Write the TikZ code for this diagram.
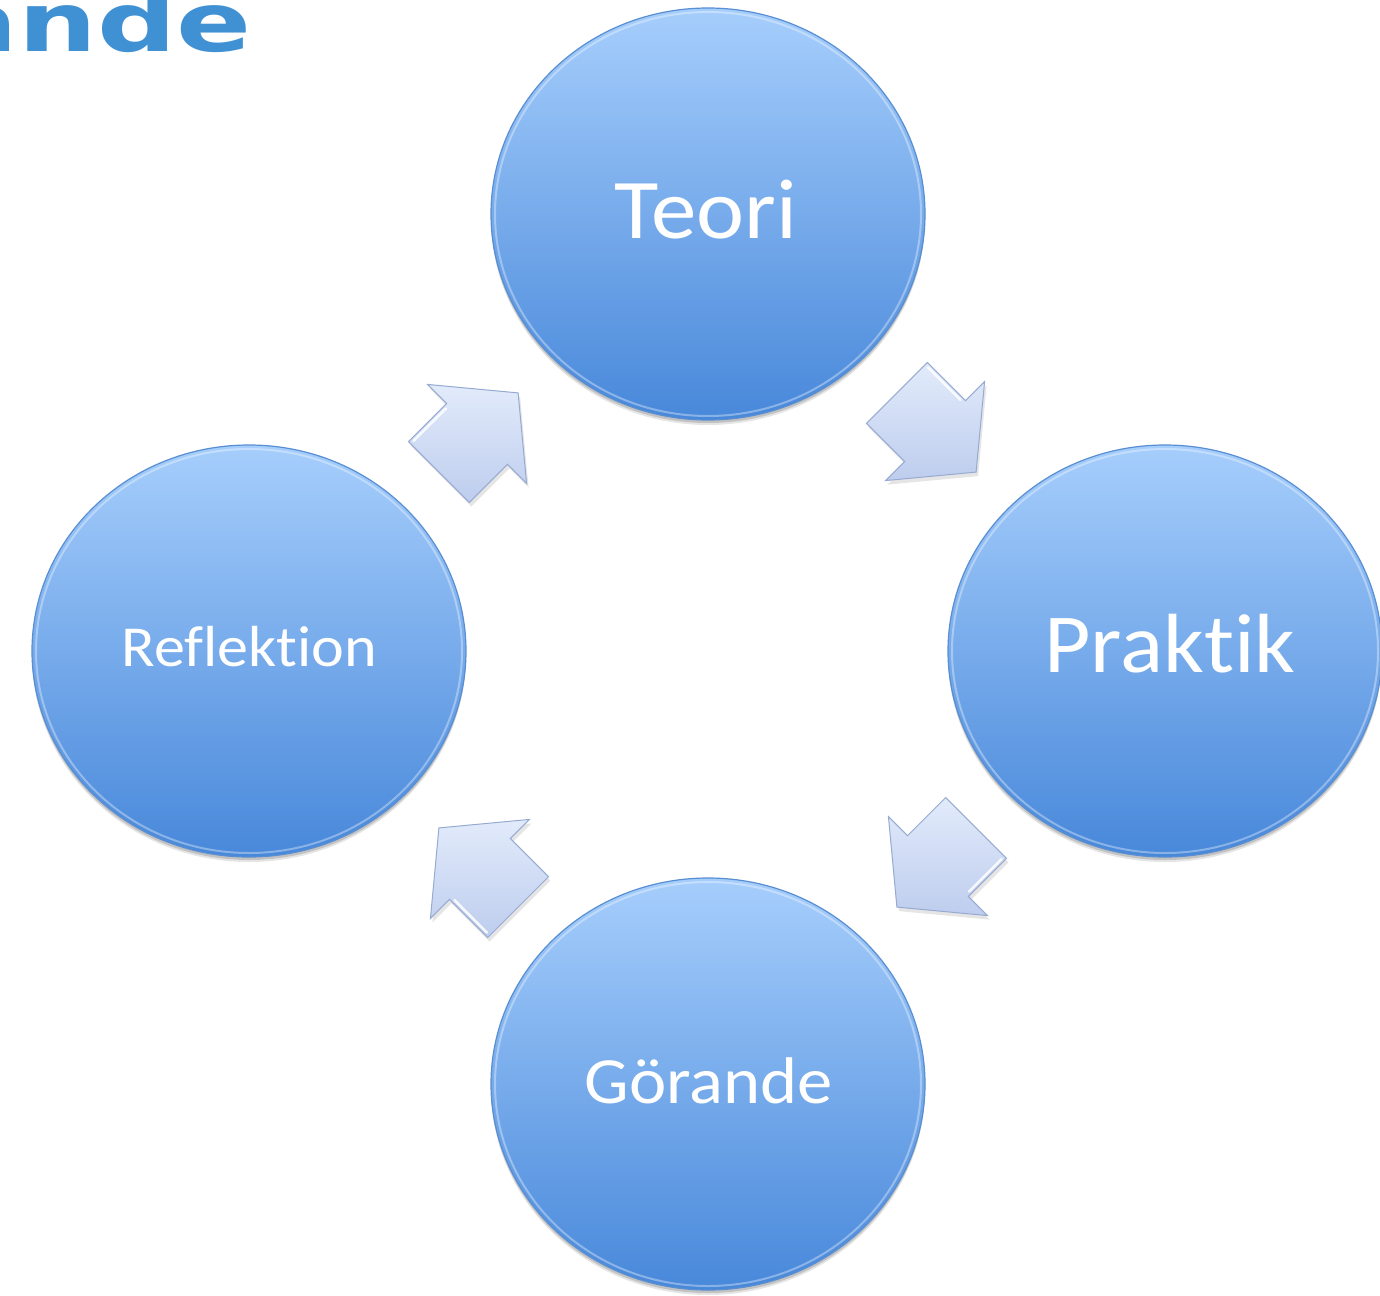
\documentclass[tikz,border=0pt]{standalone}
\usepackage{fontspec}
\setmainfont{Carlito}[Ligatures=NoCommon]
\newfontfamily\titlefont{DejaVu Sans}
\usetikzlibrary{shapes.geometric,calc,shadows}
\definecolor{ctop}{RGB}{166,206,252}
\definecolor{cmid}{RGB}{122,172,238}
\definecolor{cbot}{RGB}{72,136,218}
\definecolor{crim}{RGB}{88,142,210}
\definecolor{atop}{RGB}{226,235,251}
\definecolor{abot}{RGB}{190,205,238}
\definecolor{arim}{RGB}{150,170,210}
\definecolor{titleblue}{RGB}{64,145,212}
\begin{document}
\begin{tikzpicture}[x=1pt,y=-1pt,
  bubble/.style={ellipse, minimum width=434pt, minimum height=412pt, inner sep=0pt,
    top color=ctop, middle color=cmid, bottom color=cbot, draw=crim, line width=1.2pt,
    drop shadow={shadow xshift=0pt, shadow yshift=-5pt, opacity=0.10, fill=black},
    drop shadow={shadow xshift=0pt, shadow yshift=-3pt, opacity=0.15, fill=black}},
  lbl/.style={anchor=base, inner sep=0pt, text=white},
  rimlight/.style={white, opacity=0.35, line width=2pt},
  arrowbody/.style={top color=atop, bottom color=abot, draw=arim, line width=1pt, line join=miter},
  arrowshadow/.style={fill=black, fill opacity=0.10},
  arrowhl/.style={white, line width=2.5pt, opacity=0.85, line cap=round}
]
\useasboundingbox (0,0) rectangle (1380,1295);
\clip (0,0) rectangle (1380,1295);
\fill[white] (0,0) rectangle (1380,1295);

\node[anchor=base east, text=titleblue, font=\titlefont\bfseries\fontsize{82}{90}\selectfont, xscale=1.35, inner sep=0pt] (title) at (252,52) {ande};

\node[bubble] (teori) at (708,214) {};
\node[bubble] (praktik) at (1165,651) {};
\node[bubble] (gorande) at (708,1084) {};
\node[bubble] (reflektion) at (249,651) {};

\foreach \n in {teori,praktik,gorande,reflektion}
  \draw[rimlight] (\n.center) ellipse [x radius=213, y radius=202];

\node[lbl, font=\fontsize{85}{90}\selectfont] (teoriT) at (706,238) {\scalebox{1.07}[1]{Teori}};
\node[lbl, font=\fontsize{84}{90}\selectfont] (praktikT) at (1170,672) {\scalebox{1.07}[1]{Praktik}};
\node[lbl, font=\fontsize{66}{70}\selectfont] (gorandeT) at (709,1103) {\scalebox{1.07}[1]{Görande}};
\node[lbl, font=\fontsize{58}{62}\selectfont] (reflektionT) at (249,666) {\scalebox{1.07}[1]{Reflektion}};

\coordinate (a1) at ($(reflektion)!0.5!(teori)$);
\coordinate (a2) at ($(teori)!0.5!(praktik)$);
\coordinate (a3) at ($(praktik)!0.5!(gorande)$);
\coordinate (a4) at ($(gorande)!0.5!(reflektion)$);

\foreach \c/\r in {a1/45,a2/-45,a3/-135,a4/135}{
  \begin{scope}[shift={(\c)}, xshift=2pt, yshift=-4pt, rotate=\r]
    \path[arrowshadow] (-56,-43) -- (-2,-43) -- (-2,-70) -- (56,0) -- (-2,70) -- (-2,43) -- (-56,43) -- cycle;
  \end{scope}
  \begin{scope}[shift={(\c)}, rotate=\r]
    \path[arrowbody] (-56,-43) -- (-2,-43) -- (-2,-70) -- (56,0) -- (-2,70) -- (-2,43) -- (-56,43) -- cycle;
    \draw[arrowhl] (-52,-40) -- (-6,-40);
  \end{scope}
}
\end{tikzpicture}
\end{document}
